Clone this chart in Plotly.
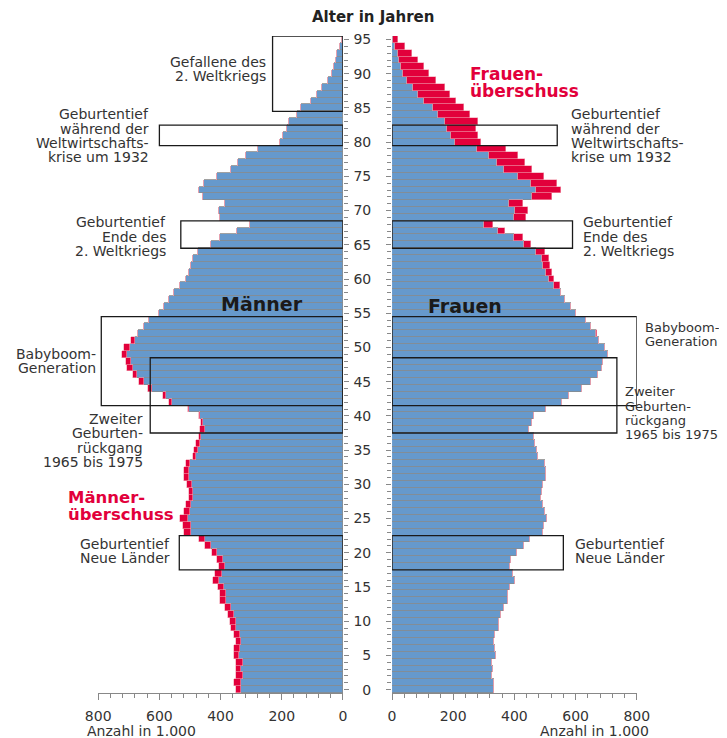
import numpy as np
import plotly.graph_objects as go

# ---------------- data (in 1.000) ----------------
AGES = list(range(0, 96))

MEN = [350, 354, 349, 349, 349, 356, 356, 349, 356, 365,
       367, 376, 384, 400, 400, 409, 425, 418, 406, 412,
       428, 450, 471, 520, 523, 531, 518, 512, 502, 502,
       509, 520, 518, 512, 491, 485, 480, 471, 466, 463,
       469, 506, 567, 589, 636, 666, 685, 706, 709, 722,
       715, 693, 668, 650, 634, 600, 585, 567, 551, 531,
       512, 504, 495, 491, 472, 432, 400, 347, 302, 400,
       403, 384, 457, 471, 453, 411, 366, 342, 316, 278,
       206, 194, 181, 174, 151, 135, 105, 85, 68, 48,
       35, 29, 23, 18, 10, 3]

WOMEN = [332, 333, 327, 331, 327, 339, 336, 332, 336, 349,
         350, 356, 366, 380, 380, 387, 403, 396, 385, 390,
         410, 430, 450, 495, 496, 507, 500, 495, 488, 489,
         494, 504, 502, 500, 478, 474, 468, 464, 449, 458,
         465, 504, 557, 579, 622, 651, 672, 686, 691, 705,
         696, 678, 670, 650, 634, 600, 585, 567, 554, 548,
         529, 523, 518, 513, 499, 455, 427, 370, 329, 438,
         445, 427, 524, 551, 540, 496, 458, 436, 412, 374,
         291, 281, 274, 280, 256, 237, 209, 190, 174, 143,
         121, 106, 86, 67, 43, 19]

AGE_TICKS = list(range(0, 96, 5))
X_TICKS = [0, 200, 400, 600, 800]
X_TICK_TEXT = ["0", "200", "400", "600", "800"]

# highlight boxes: (age_from, age_to), width on men's side, width on women's side
BOX_AGES = [(84.5, 95.5), (79.5, 82.5), (64.5, 68.5), (41.5, 54.5), (37.5, 48.5), (17.5, 22.5)]
BOX_LEFT = [230, 600, 530, 790, 630, 535]
BOX_RIGHT = [None, 540, 590, 800, 735, 560]

# ---------------- derived ----------------
m = np.array(MEN)
w = np.array(WOMEN)
base = np.minimum(m, w)
men_surplus = np.clip(m - w, 0, None)
women_surplus = np.clip(w - m, 0, None)

BLUE = "#6699CC"
RED = "#E2003B"
SEP = "#8a8a8a"
TXT = "#333333"
FONT = "DejaVu Sans"

W, H = 727, 738
# effective drawing area observed in the browser
OX, OY, EW, EH = 22.0, 11.5, 699.0, 730.0


def px(x):
    return (x - OX) / EW


def py(y):
    return 1 - (y - OY) / EH


fig = go.Figure()
fig.add_trace(go.Bar(y=AGES, x=base, orientation="h", marker=dict(color=BLUE, line=dict(color=SEP, width=0.8)),
                     xaxis="x", yaxis="y", showlegend=False))
fig.add_trace(go.Bar(y=AGES, x=men_surplus, orientation="h", marker=dict(color=RED, line=dict(color="#f2a0b0", width=0.6)),
                     xaxis="x", yaxis="y", showlegend=False))
fig.add_trace(go.Bar(y=AGES, x=base, orientation="h", marker=dict(color=BLUE, line=dict(color=SEP, width=0.8)),
                     xaxis="x2", yaxis="y2", showlegend=False))
fig.add_trace(go.Bar(y=AGES, x=women_surplus, orientation="h", marker=dict(color=RED, line=dict(color="#f2a0b0", width=0.6)),
                     xaxis="x2", yaxis="y2", showlegend=False))

ydom = [py(692.5), py(34.6)]
xcommon = dict(ticks="outside", ticklen=6, tickcolor="#888", tickvals=X_TICKS, ticktext=X_TICK_TEXT,
               minor=dict(tickmode="linear", tick0=0, dtick=40, ticks="outside", ticklen=4, tickcolor="#888"),
               showline=True, linecolor="#888", linewidth=1, showgrid=False, zeroline=False,
               tickfont=dict(family=FONT, size=14, color=TXT), ticklabelstandoff=4, fixedrange=True)
ycommon = dict(domain=ydom, range=[-0.5, 95.5], ticks="outside", ticklen=5, tickcolor="#888",
               tickmode="array", tickvals=AGE_TICKS,
               minor=dict(tickmode="linear", tick0=0, dtick=1, ticks="outside", ticklen=4, tickcolor="#888"),
               showgrid=False, zeroline=False, showline=False)

fig.update_layout(
    width=W, height=H, margin=dict(l=0, r=0, t=0, b=0),
    paper_bgcolor="white", plot_bgcolor="white",
    barmode="stack", bargap=0,
    xaxis=dict(domain=[px(99), px(343)], range=[800, 0], anchor="y", **xcommon),
    xaxis2=dict(domain=[px(392), px(636)], range=[0, 800], anchor="y2", **xcommon),
    yaxis=dict(anchor="x", side="right", showticklabels=False, **ycommon),
    yaxis2=dict(anchor="x2", side="left", matches="y", showticklabels=True,
                tickfont=dict(family=FONT, size=14, color=TXT), ticklabelstandoff=12, **ycommon),
    font=dict(family=FONT, color=TXT),
)

# boxes
shapes = []
for (a0, a1), wl, wr in zip(BOX_AGES, BOX_LEFT, BOX_RIGHT):
    shapes.append(dict(type="rect", xref="x", yref="y", x0=0, x1=wl, y0=a0, y1=a1,
                       line=dict(color="#1a1a1a", width=1.3), fillcolor="rgba(0,0,0,0)"))
    if wr is not None:
        shapes.append(dict(type="rect", xref="x2", yref="y", x0=0, x1=wr, y0=a0, y1=a1,
                           line=dict(color="#1a1a1a", width=1.3), fillcolor="rgba(0,0,0,0)"))
fig.update_layout(shapes=shapes)

ann = []


def lines(texts, x, y0, step, anchor, size=14, color=TXT, bold=False):
    for i, t in enumerate(texts):
        tt = f"<b>{t}</b>" if bold else t
        ann.append(dict(text=tt, xref="paper", yref="paper", x=px(x), y=py(y0 + i * step),
                        xanchor=anchor, yanchor="middle", showarrow=False,
                        font=dict(family=FONT, size=size, color=color)))


lines(["Alter in Jahren"], 373, 16, 0, "center", size=15, color="#222", bold=True)
lines(["Gefallene des", "2. Weltkriegs"], 268, 61, 13.5, "right")
lines(["Geburtentief", "während der", "Weltwirtschafts-", "krise um 1932"], 152, 113, 14.2, "right")
lines(["Geburtentief", "während der", "Weltwirtschafts-", "krise um 1932"], 568, 113, 14.2, "left")
lines(["Geburtentief", "Ende des", "2. Weltkriegs"], 169, 221, 14.5, "right")
lines(["Geburtentief", "Ende des", "2. Weltkriegs"], 580, 221, 14.5, "left")
lines(["Männer"], 262, 303, 0, "center", size=19, color="#1a1a1a", bold=True)
lines(["Frauen"], 465, 305, 0, "center", size=19, color="#1a1a1a", bold=True)
lines(["Babyboom-", "Generation"], 99, 353, 14, "right")
lines(["Babyboom-", "Generation"], 642, 326, 14, "left", size=13)
lines(["Zweiter", "Geburten-", "rückgang", "1965 bis 1975"], 146, 418, 14.3, "right")
lines(["Zweiter", "Geburten-", "rückgang", "1965 bis 1975"], 622, 391, 14.2, "left", size=13)
lines(["Männer-", "überschuss"], 67, 497, 16.5, "left", size=16.5, color=RED, bold=True)
lines(["Frauen-", "überschuss"], 468, 73, 17, "left", size=17, color=RED, bold=True)
lines(["Geburtentief", "Neue Länder"], 173, 543, 14, "right")
lines(["Geburtentief", "Neue Länder"], 572, 543, 14, "left")
lines(["Anzahl in 1.000"], 86, 730, 0, "left", size=14)
lines(["Anzahl in 1.000"], 538, 730, 0, "left", size=14)

fig.update_layout(annotations=ann)

fig.write_html("out.html")
